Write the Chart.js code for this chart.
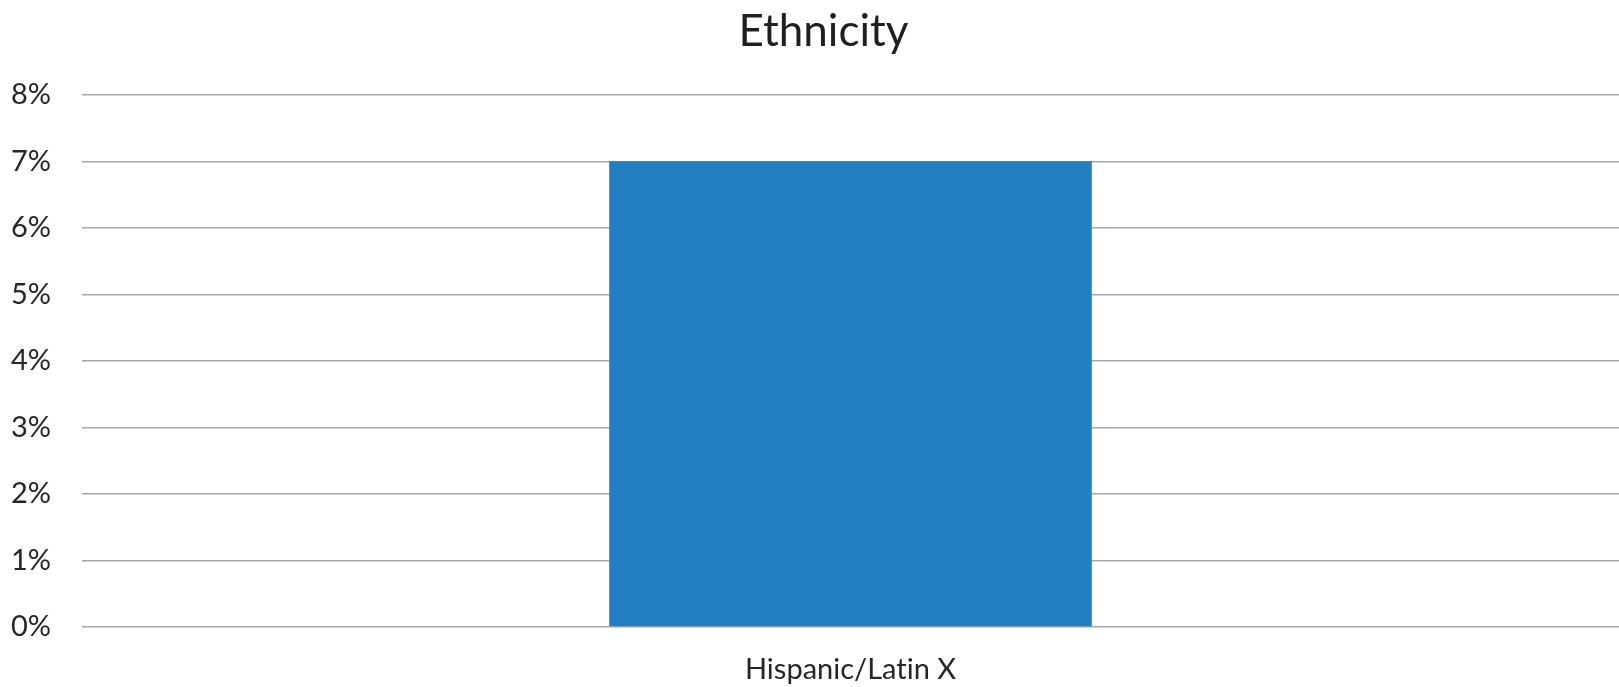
<!DOCTYPE html>
<html>
<head>
<meta charset="utf-8">
<title>Ethnicity</title>
<script src="https://cdn.jsdelivr.net/npm/chart.js@4/dist/chart.umd.min.js"></script>
<style>
    html, body { margin: 0; padding: 0; background: #fff; }
    #wrap { width: 1619px; height: 687px; position: relative; }
</style>
</head>
<body>
<div id="wrap"><canvas id="ethnicityChart"></canvas></div>
<script>
const categories = ['Hispanic/Latin X'];
const shares = [0.07];
const yMax = 0.08;
const yStep = 0.01;

let ethnicityChart = null;

// Lato joins "ti" into a ligature; keep the letters separate,
// and nudge the title a little right of the canvas centre
const plainText = {
    id: 'plainText',
    afterLayout: chart => {
        if (chart.titleBlock) {
            chart.titleBlock.left += 14;
            chart.titleBlock.right += 14;
        }
    },
    beforeDraw: chart => {
        chart.ctx.textRendering = 'optimizeSpeed';
    }
};

function initEthnicityChart() {
    const ctx = document.getElementById('ethnicityChart');
    if (!ctx) return;

    if (ethnicityChart) ethnicityChart.destroy();

    ethnicityChart = new Chart(ctx, {
        type: 'bar',
        data: {
            labels: categories,
            datasets: [{
                label: 'Ethnicity',
                data: shares,
                backgroundColor: '#2180c2',
                categoryPercentage: 1,
                barPercentage: 0.314
            }]
        },
        plugins: [plainText],
        options: {
            responsive: true,
            maintainAspectRatio: false,
            animation: false,
            layout: { padding: { left: 0, right: 0, top: 0, bottom: 0 } },
            plugins: {
                legend: { display: false },
                tooltip: { enabled: false },
                title: {
                    display: true,
                    text: 'Ethnicity',
                    color: '#1f1f1f',
                    font: { family: 'Lato', size: 44, weight: 'normal' },
                    padding: { top: 5, bottom: 37 }
                }
            },
            scales: {
                x: {
                    grid: { display: false },
                    border: { display: false },
                    ticks: {
                        color: '#262626',
                        padding: 17,
                        font: { family: 'Lato', size: 29 }
                    },
                    afterFit: axis => { axis.height = 60; }
                },
                y: {
                    min: 0,
                    max: yMax,
                    border: { display: false },
                    grid: {
                        color: '#a8a8a8',
                        lineWidth: 1.5,
                        drawTicks: false
                    },
                    ticks: {
                        stepSize: yStep,
                        padding: 31,
                        color: '#262626',
                        font: { family: 'Lato', size: 29 },
                        callback: value => Math.round(value * 100) + '%'
                    },
                    afterFit: axis => { axis.width = 82; }
                }
            }
        }
    });
}

initEthnicityChart();
</script>
</body>
</html>
